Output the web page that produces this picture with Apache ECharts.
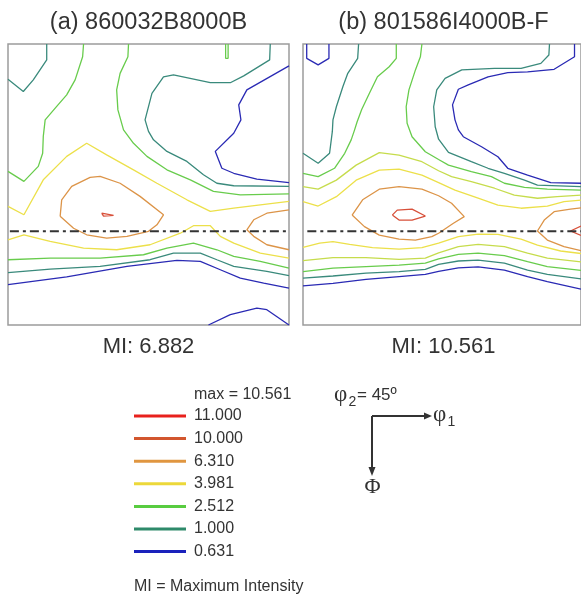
<!DOCTYPE html>
<html>
<head>
<meta charset="utf-8">
<script src="https://cdn.jsdelivr.net/npm/echarts@6/dist/echarts.min.js"></script>
<style>
html,body{margin:0;padding:0;background:#fff;}
#chart{width:581px;height:594px;}
</style>
</head>
<body>
<div id="chart"></div>
<script>
// ---------------- DATA ----------------
// Panel titles and maximum intensities
const PANEL_TITLES = ['(a) 860032B8000B', '(b) 801586I4000B-F'];
const PANEL_MI = ['6.882', '10.561'];
const MAX_INTENSITY = '10.561';
// Contour levels shown in legend (descending)
const LEGEND_LEVELS = ['11.000', '10.000', '6.310', '3.981', '2.512', '1.000', '0.631'];
// Reference line (dash-dot) at constant Phi
const REF_PHI = 60;
const REF_PHI1_START = [0.6, 1.4];
// Axis range (degrees): phi1 horizontal, Phi vertical (downward)
const PHI1_RANGE = [0, 90];
const PHI_RANGE = [0, 90];

// Panel (a) contour polylines [phi1, Phi]
const A_0631 = [
  [[90,7.0],[76.5,14.7],[73.9,19.5],[74.6,24.3],[72.3,28.6],[66.4,34.4],[68.5,39.8],[72.3,41.4],[79.7,43.3],[90,44.4]],
  [[0,77.1],[18.8,74.6],[38.1,71.2],[54.1,69.3],[61.6,69.6],[68,72.3],[74.4,75],[81.9,76.6],[90,78.2]],
  [[64.2,90],[71.2,86.7],[79.7,84.6],[82.9,85.1],[90,90]]
];
const A_1000 = [
  [[12.4,0],[12.4,5.1],[8.1,11.5],[4.9,15.2],[0,11.3]],
  [[84,0],[83.8,5.1],[75.5,10.2],[71.2,12.4],[64.8,12.4],[53,9.9],[49.8,10.5],[46.1,15.8],[43.9,24.3],[45,28],[46.6,30.7],[50.9,34.4],[57.3,37.6],[62.6,41.9],[66.9,44.6],[72.3,45.4],[90,45.6]],
  [[0,73.2],[13.5,72.1],[29.5,71.2],[45.5,69.1],[53,67],[61.6,67],[66.9,69.1],[72.3,71.2],[82.9,72.8],[90,74.2]]
];
const A_2512 = [
  [[24.2,0],[23.9,4.1],[21.5,11.5],[18.8,16.3],[15.6,20],[11.9,24.3],[11.3,29.6],[11.1,35],[9.7,39.2],[5.1,44],[0,40.8]],
  [[38.6,0],[38.4,4.1],[35.9,9.4],[34.8,14.7],[35.2,21.1],[37,27.5],[40.2,31.8],[44.5,36],[50.9,40.3],[58.4,43.5],[65.8,47.2],[74.4,48.3],[90,48]],
  [[0,69.1],[13.5,68.6],[29.5,68.6],[43.4,67.5],[50.9,65.4],[59.4,63.8],[66.9,65.9],[72.3,68],[80.8,69.6],[90,71.8]],
  [[69.7,0],[69.7,4.6],[70.5,4.6],[70.5,0]]
];
const A_3981 = [
  [[0,52],[5.1,54.7],[11.3,43.5],[18.8,36],[25.2,31.8],[31.6,35.5],[40.2,40.3],[47.7,44.6],[57.3,49.9],[64.8,53.6],[72.3,52.6],[90,50.4]],
  [[0,62.7],[5.1,61.1],[13.5,63.2],[24.2,65.4],[34.8,65.9],[45.5,64.3],[55.2,60.6],[59.4,58.2],[64.8,58.2],[68,61.6],[72.3,63.8],[80.8,67],[90,68.6]]
];
const A_6310 = [
  [[16.7,55.2],[17.2,49.9],[20.4,45.6],[26.3,42.7],[29.5,42.4],[35.9,44.6],[42.3,48.8],[49.8,54.7],[47.7,57.9],[45,60],[38.1,61.6],[31.6,62.2],[25.2,61.1],[21,59],[16.7,55.2]],
  [[90,53.1],[82.9,54.2],[78.7,56.3],[76.5,59.5],[78.7,61.6],[82.9,64.3],[90,65.9]]
];
const A_10000 = [
  [[30,54.2],[33.8,54.9],[30.6,55.1],[30,54.2]]
];

// Panel (b) contour polylines [phi1, Phi]
const B_0631 = [
  [[1.2,0],[1.2,4.6],[4.9,6.7],[8.4,4.6],[8.4,0]],
  [[87.9,0],[87.9,4.1],[81.3,8.1],[72.7,8.9],[66.3,9.2],[59.9,10.5],[53.5,13.1],[50.3,14.5],[48.4,19.5],[49.2,24.3],[50.3,27.5],[51.9,29.7],[57.8,32.9],[63.1,36.1],[66.3,39.8],[72.7,42],[80.2,44.4],[90,44.6]],
  [[0,77.5],[9.7,76.7],[20.4,75.4],[31.1,74.5],[39.6,73.8],[43.9,72.8],[50.3,71.7],[56.7,71.4],[65.2,72.4],[72.7,74.5],[79.1,76.1],[90,78.5]]
];
const B_1000 = [
  [[18,0],[17.7,4.6],[14.5,9.4],[12.9,13.7],[10.8,20.1],[9.7,24.3],[9.5,28],[8.6,35],[4.9,38.2],[0,35]],
  [[79.8,0],[79.6,3.5],[77,6.2],[70.6,7.8],[62,7.8],[51.4,8.3],[46,11],[43.3,14.7],[42.3,20.1],[42.8,26.5],[43.9,30.5],[47.1,34.7],[54.5,37.7],[59.9,39.8],[65.2,41.4],[71.7,43.6],[75.9,45.2],[90,45.7]],
  [[0,75],[9.7,74.3],[20.4,73.4],[31.1,72.9],[39.6,72.2],[43.9,70.6],[50.3,69.5],[56.7,69.2],[65.2,70.2],[72.7,72.4],[79.1,73.8],[90,75.2]]
];
const B_2512 = [
  [[30.2,0],[30.2,4.6],[27.9,7.3],[24.1,10.5],[21.5,15.8],[19,21],[17.5,25],[16.7,27.5],[15.6,30.7],[13.5,35],[10.2,39.8],[4.9,42.5],[0,41.4]],
  [[38.5,0],[38,4.1],[36.4,8.3],[34.3,14.7],[33.4,20.1],[33.7,25.4],[35.3,29.7],[39.6,34.5],[43.9,37],[47.1,38.8],[54.5,40.9],[61,42.5],[65.2,44.6],[71.7,45.9],[79.1,46.5],[90,46.8]],
  [[0,72.9],[9.7,71.8],[20.4,71.3],[31.1,70.8],[39.6,70.2],[43.9,68.8],[50.3,67.4],[56.7,67],[65.2,67.8],[72.7,69.7],[79.1,71.3],[90,72.5]]
];
const B_3162 = [
  [[0,45.7],[4.9,46.5],[10.8,43.6],[17.2,38.8],[24.7,34.8],[31.1,35.6],[38.5,37.7],[43.9,40.6],[48.1,42.5],[54.5,44.1],[62,46.2],[68.4,48.4],[75.9,49.4],[82.3,48.9],[90,48.4]],
  [[0,69.4],[9.7,68.4],[20.4,68.4],[31.1,69],[39.6,68.6],[43.9,66.9],[50.3,64.9],[56.7,64.2],[65.2,64.9],[72.7,67],[79.1,68.6],[90,69.8]]
];
const B_3981 = [
  [[0,50.5],[4.9,51.9],[10.8,48.9],[17.2,43.6],[24.7,40.4],[31.1,40.1],[38.5,42],[43.9,44.4],[49.2,46.8],[56.7,49.4],[63.1,51.6],[70.6,52.6],[79.1,51.9],[84.5,50.5],[90,50]],
  [[0,65.1],[5.4,63.8],[9.7,63.3],[15.1,64.2],[22.5,65.2],[31.1,65.7],[38.5,65.2],[43.9,63.8],[50.3,61.7],[56.7,60.9],[63.1,61],[70.6,62.5],[75.9,64.4],[83.4,66.3],[90,67.1]]
];
const B_6310 = [
  [[15.9,54.8],[19.3,49.9],[24.7,46.5],[31.1,45.7],[38.5,46.5],[43.9,48.6],[48.1,51],[52.2,55.3],[48.7,57.4],[43.9,60.6],[41.7,61.7],[36.4,62.8],[31.1,62.5],[24.7,61.2],[19.9,58.5],[15.9,54.8]],
  [[90,52.5],[86.6,52.9],[81.3,53.7],[78.1,56.4],[75.9,59.9],[79.1,62.8],[84.5,64.9],[90,66.2]]
];
const B_10000 = [
  [[28.9,54.8],[30.5,53.2],[35.3,52.9],[39.6,55.1],[35.3,56.4],[31.1,56.4],[28.9,54.8]],
  [[90,58.3],[86.6,59.9],[90,61.3]]
];

// ---------------- STYLE ----------------
const LEVEL_STYLE = {
  '11.000': '#e8201c',
  '10.000': '#d2562e',
  '6.310': '#e09640',
  '3.981': '#ecd83a',
  '3.162': '#c2dc44',
  '2.512': '#58cc40',
  '1.000': '#2e8a6a',
  '0.631': '#1a22bc'
};
const LINE_COLOR = {
  '11.000': '#e8201c',
  '10.000': '#d8503a',
  '6.310': '#dc9448',
  '3.981': '#ece04a',
  '3.162': '#c6dc4c',
  '2.512': '#68cc4c',
  '1.000': '#3a8a7c',
  '0.631': '#2a2ab4'
};

const PANELS = [
  {'0.631': A_0631, '1.000': A_1000, '2.512': A_2512, '3.981': A_3981, '6.310': A_6310, '10.000': A_10000},
  {'0.631': B_0631, '1.000': B_1000, '2.512': B_2512, '3.162': B_3162, '3.981': B_3981, '6.310': B_6310, '10.000': B_10000}
];

const FONT = 'Liberation Sans, Arial, sans-serif';
const SERIF = 'Liberation Serif, Times New Roman, serif';
const TXT = '#333333';

const series = [];
// legend placeholder series so every legend level has a colour (including 11.000)
LEGEND_LEVELS.forEach(function (lv) {
  series.push({
    type: 'line', name: lv, xAxisIndex: 0, yAxisIndex: 0, data: [],
    symbol: 'none', itemStyle: {color: LEVEL_STYLE[lv]}, lineStyle: {color: LEVEL_STYLE[lv]}
  });
});
PANELS.forEach(function (panel, pi) {
  Object.keys(panel).forEach(function (lv) {
    panel[lv].forEach(function (poly) {
      series.push({
        type: 'line', name: lv, xAxisIndex: pi, yAxisIndex: pi, data: poly,
        symbol: 'none', silent: true, animation: false, smooth: false,
        itemStyle: {color: LEVEL_STYLE[lv]},
        lineStyle: {color: LINE_COLOR[lv], width: 1.3}
      });
    });
  });
  series.push({
    type: 'line', name: 'ref', xAxisIndex: pi, yAxisIndex: pi,
    data: [[REF_PHI1_START[pi], REF_PHI], [PHI1_RANGE[1], REF_PHI]],
    symbol: 'none', silent: true, animation: false, z: 5,
    lineStyle: {color: '#333', width: 2, type: [9, 4, 3, 4]}
  });
});

const gridLefts = [8, 303];
const option = {
  animation: false,
  backgroundColor: '#ffffff',
  grid: gridLefts.map(function (l) {
    return {left: l, top: 44, width: 281, height: 281, show: true,
      borderColor: '#9c9c9c', borderWidth: 1.5, backgroundColor: 'transparent'};
  }),
  xAxis: gridLefts.map(function (l, i) {
    return {type: 'value', gridIndex: i, min: PHI1_RANGE[0], max: PHI1_RANGE[1], show: false};
  }),
  yAxis: gridLefts.map(function (l, i) {
    return {type: 'value', gridIndex: i, min: PHI_RANGE[0], max: PHI_RANGE[1], inverse: true, show: false};
  }),
  legend: {
    show: true, orient: 'vertical', left: 134, top: 408, padding: 0,
    data: LEGEND_LEVELS, icon: 'rect', itemWidth: 52, itemHeight: 3, itemGap: 6.6,
    selectedMode: false,
    textStyle: {fontFamily: FONT, fontSize: 16, color: TXT, lineHeight: 16, padding: [0, 0, 0, 3]}
  },
  series: series,
  graphic: [
    {type: 'text', x: 148.5, y: 23, style: {text: PANEL_TITLES[0], font: '23.5px ' + FONT, fill: TXT, textAlign: 'center', textVerticalAlign: 'middle'}},
    {type: 'text', x: 443.5, y: 23, style: {text: PANEL_TITLES[1], font: '23.5px ' + FONT, fill: TXT, textAlign: 'center', textVerticalAlign: 'middle'}},
    {type: 'text', x: 148.5, y: 347, style: {text: 'MI: ' + PANEL_MI[0], font: '22px ' + FONT, fill: TXT, textAlign: 'center', textVerticalAlign: 'middle'}},
    {type: 'text', x: 443.5, y: 347, style: {text: 'MI: ' + PANEL_MI[1], font: '22px ' + FONT, fill: TXT, textAlign: 'center', textVerticalAlign: 'middle'}},
    {type: 'text', x: 194, y: 395, style: {text: 'max = ' + MAX_INTENSITY, font: '16px ' + FONT, fill: TXT, textAlign: 'left', textVerticalAlign: 'middle'}},
    {type: 'text', x: 134, y: 587, style: {text: 'MI = Maximum Intensity', font: '16px ' + FONT, fill: TXT, textAlign: 'left', textVerticalAlign: 'middle'}},
    // phi2 = 45 label
    {type: 'text', x: 334, y: 395, style: {text: 'φ', font: '23px ' + SERIF, fill: TXT, textAlign: 'left', textVerticalAlign: 'middle'}},
    {type: 'text', x: 348.5, y: 402, style: {text: '2', font: '14px ' + FONT, fill: TXT, textAlign: 'left', textVerticalAlign: 'middle'}},
    {type: 'text', x: 357, y: 395, style: {text: '= 45º', font: '17px ' + FONT, fill: TXT, textAlign: 'left', textVerticalAlign: 'middle'}},
    // axes arrows
    {type: 'polyline', shape: {points: [[372, 416], [426, 416]]}, style: {stroke: TXT, lineWidth: 2, fill: null}},
    {type: 'polygon', shape: {points: [[424, 412.5], [432, 416], [424, 419.5]]}, style: {fill: TXT}},
    {type: 'polyline', shape: {points: [[372, 416], [372, 469]]}, style: {stroke: TXT, lineWidth: 2, fill: null}},
    {type: 'polygon', shape: {points: [[368.5, 467], [372, 476], [375.5, 467]]}, style: {fill: TXT}},
    {type: 'text', x: 433, y: 415, style: {text: 'φ', font: '23px ' + SERIF, fill: TXT, textAlign: 'left', textVerticalAlign: 'middle'}},
    {type: 'text', x: 447.5, y: 422, style: {text: '1', font: '14px ' + FONT, fill: TXT, textAlign: 'left', textVerticalAlign: 'middle'}},
    {type: 'text', x: 372.5, y: 487, style: {text: 'Φ', font: '22px ' + SERIF, fill: TXT, textAlign: 'center', textVerticalAlign: 'middle'}}
  ]
};

const chart = echarts.init(document.getElementById('chart'), null, {renderer: 'canvas'});
chart.setOption(option);
</script>
</body>
</html>
